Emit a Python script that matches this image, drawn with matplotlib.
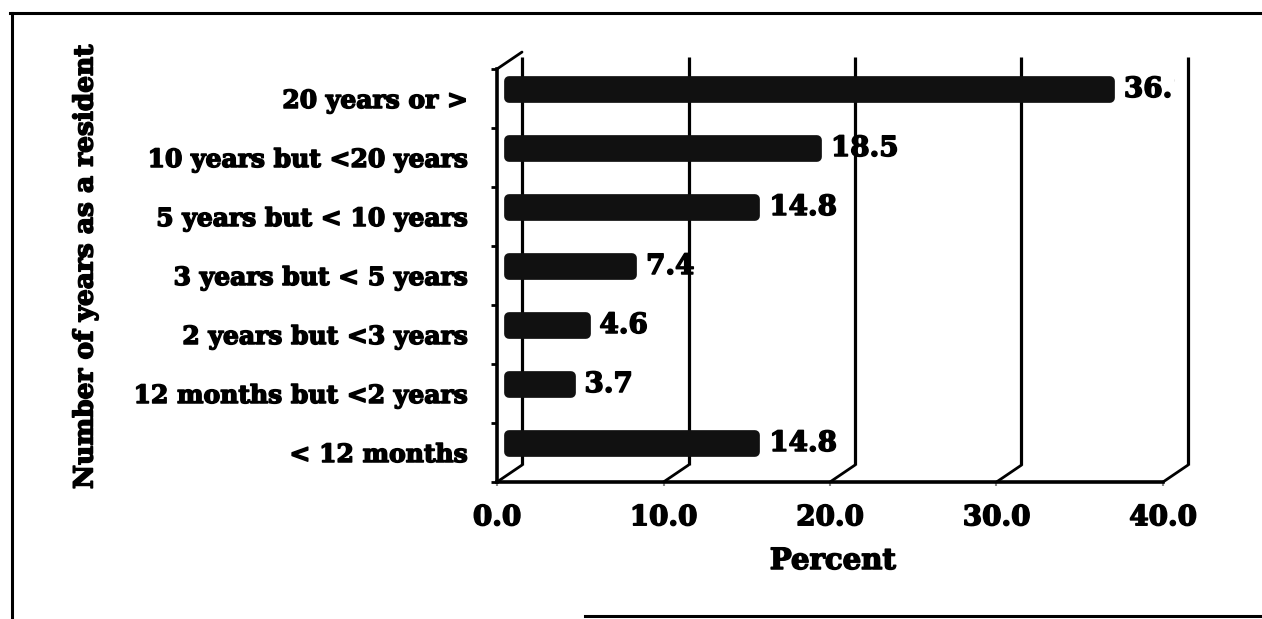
import numpy as np
import matplotlib.pyplot as plt
import matplotlib.patheffects as pe
from matplotlib.lines import Line2D
from matplotlib.transforms import offset_copy

# data (top to bottom)
categories = [
    "20 years or >",
    "10 years but <20 years",
    "5 years but < 10 years",
    "3 years but < 5 years",
    "2 years but <3 years",
    "12 months but <2 years",
    "< 12 months",
]
percent = [36.1, 18.5, 14.8, 7.4, 4.6, 3.7, 14.8]
xticks = [0, 10, 20, 30, 40]
xtick_labels = ["0.0", "10.0", "20.0", "30.0", "40.0"]

W, H = 1262, 619
fig = plt.figure(figsize=(W / 100, H / 100), dpi=100)


def px_box(l, t, r, b):
    # pixel box -> figure fraction [left, bottom, width, height]
    return [l / W, 1 - b / H, (r - l) / W, (b - t) / H]


ax = fig.add_axes(px_box(497, 69, 1175, 482))
ax.set_xlim(0, 678 / 16.65)
ax.set_ylim(len(categories) - 0.5, -0.5)

# heavy scanned look: bold serif + thin stroke
heavy = [pe.withStroke(linewidth=1.1, foreground="black")]
font = dict(family="DejaVu Serif", weight="bold", path_effects=heavy)
ink = "#111111"

# fake 3d depth: back wall shifted right/up, bars half way
depth = offset_copy(ax.transData, fig=fig, x=25, y=17, units="dots")
half = offset_copy(ax.transData, fig=fig, x=12, y=9, units="dots")

y = np.arange(len(categories))
top, bottom = -0.5, len(categories) - 0.5

# back wall gridlines + floor diagonals
for t in xticks:
    ax.plot([t, t], [bottom, top + 0.08], color="black", lw=2.3, transform=depth,
            clip_on=False, zorder=1, solid_capstyle="butt")
    ax.annotate("", xy=(t, bottom), xytext=(18, 12.2), textcoords="offset points",
                arrowprops=dict(arrowstyle="-", lw=2.0, color="black", shrinkA=0, shrinkB=0),
                annotation_clip=False, zorder=1)
# diagonal at top of the left wall
ax.annotate("", xy=(0, top), xytext=(18, 12.2), textcoords="offset points",
            arrowprops=dict(arrowstyle="-", lw=2.0, color="black", shrinkA=0, shrinkB=0),
            annotation_clip=False, zorder=1)

# bars (rounded ends from a wide round-joined edge)
ax.barh(y, percent, height=0.29, color=ink, edgecolor=ink, linewidth=7,
        joinstyle="round", transform=half, zorder=3)

# value labels (36.1 is cut by the back wall in the original)
for i, v in enumerate(percent):
    ax.annotate(f"{v:.1f}", xy=(v, i), xycoords=half, xytext=(10, 0),
                textcoords="offset points", ha="left", va="center",
                fontsize=20, color="black", clip_on=True, zorder=4, **font)

# axes styling
ax.spines[["top", "right"]].set_visible(False)
for s in ["left", "bottom"]:
    ax.spines[s].set_linewidth(2.6)
    ax.spines[s].set_zorder(5)
ax.spines["bottom"].set_bounds(0, 40)

ax.set_yticks(y, categories, fontsize=18, **font)
ax.set_yticks(np.arange(-0.5, len(categories)), minor=True)
ax.tick_params(axis="y", which="major", length=0, pad=21)
ax.tick_params(axis="y", which="minor", length=4, width=2, direction="out")

ax.set_xticks(xticks, xtick_labels, fontsize=20, **font)
ax.tick_params(axis="x", length=3, width=1.5, color="#888888", pad=13)

ax.set_xlabel("Percent", fontsize=21, **font)
ax.xaxis.set_label_coords((833 - 497) / 678, (482 - 546) / 413)

fig.text(85 / W, 1 - 267 / H, "Number of years as a resident", rotation=90,
         ha="center", va="center", fontsize=19, **font)

# outer frame of the scanned figure
frame = dict(color="black", lw=2.2, transform=fig.transFigure)
fig.add_artist(Line2D([10 / W, 1], [1 - 13 / H, 1 - 13 / H], **frame))
fig.add_artist(Line2D([12 / W, 12 / W], [1 - 13 / H, 0], **frame))
fig.add_artist(Line2D([585 / W, 1], [1 - 616 / H, 1 - 616 / H], **frame))

fig.savefig("out.png", dpi=100)
